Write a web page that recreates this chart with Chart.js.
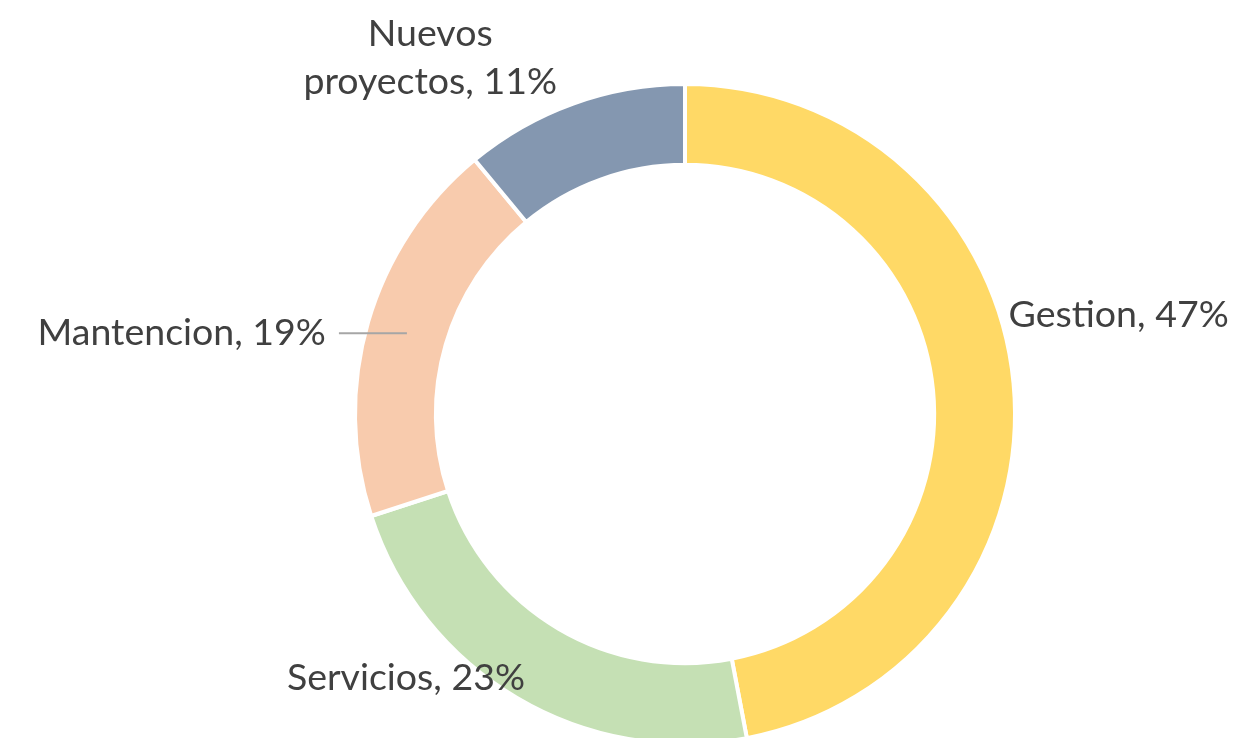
<!DOCTYPE html>
<html>
<head>
<meta charset="utf-8">
<script src="https://cdn.jsdelivr.net/npm/chart.js@4.4.0/dist/chart.umd.min.js"></script>
<style>
html,body{margin:0;padding:0;background:#fff;overflow:hidden;width:1254px;height:738px;}
#wrap{position:absolute;left:0;top:0;width:1254px;height:828px;}
</style>
</head>
<body>
<div id="wrap"><canvas id="c"></canvas></div>
<script>
const categories = ["Gestion", "Servicios", "Mantencion", "Nuevos proyectos"];
const values = [47, 23, 19, 11];
const valueLabels = ["47%", "23%", "19%", "11%"];
const colors = ["#FFD966", "#C5E0B4", "#F8CBAD", "#8497B0"];

const FONT = '37.5px Lato';
const TEXT_COLOR = '#404040';

// label placement relative to the slice's outer mid point
const labelOpts = [
  {dx: -5, dy: -68, align: 'left', lines: [categories[0] + ', ' + valueLabels[0]]},
  {dx: 8, dy: -20, align: 'right', lines: [categories[1] + ', ' + valueLabels[1]]},
  {leader: true, lineLen: 68, gap: 13, align: 'right', lines: [categories[2] + ', ' + valueLabels[2]]},
  {dx: -143, dy: -22, align: 'center', lineHeight: 48, lines: ['Nuevos', 'proyectos, ' + valueLabels[3]]}
];

const labelPlugin = {
  id: 'outLabels',
  afterDatasetsDraw(chart) {
    const ctx = chart.ctx;
    const meta = chart.getDatasetMeta(0);
    ctx.save();
    ctx.font = FONT;
    ctx.fillStyle = TEXT_COLOR;
    ctx.textBaseline = 'middle';
    meta.data.forEach((arc, i) => {
      const p = arc.getProps(['x','y','startAngle','endAngle','outerRadius','innerRadius'], true);
      const mid = (p.startAngle + p.endAngle) / 2;
      const o = labelOpts[i];
      if (o.leader) {
        const r = (p.outerRadius + p.innerRadius) / 2;
        const lx = p.x + Math.cos(mid) * r;
        const ly = p.y + Math.sin(mid) * r;
        ctx.strokeStyle = '#A6A6A6';
        ctx.lineWidth = 2;
        ctx.beginPath();
        ctx.moveTo(lx, ly);
        ctx.lineTo(lx - o.lineLen, ly);
        ctx.stroke();
        ctx.textAlign = 'right';
        ctx.fillText(o.lines[0], lx - o.lineLen - o.gap, ly);
        return;
      }
      const ox = p.x + Math.cos(mid) * p.outerRadius + o.dx;
      const oy = p.y + Math.sin(mid) * p.outerRadius + o.dy;
      ctx.textAlign = o.align;
      const lh = o.lineHeight || 0;
      const n = o.lines.length;
      o.lines.forEach((t, k) => {
        ctx.fillText(t, ox, oy - (n - 1 - k) * lh);
      });
    });
    ctx.restore();
  }
};

new Chart(document.getElementById('c'), {
  type: 'doughnut',
  data: {
    labels: categories,
    datasets: [{
      data: values,
      backgroundColor: colors,
      borderColor: '#ffffff',
      borderWidth: 4,
      hoverOffset: 0
    }]
  },
  options: {
    responsive: true,
    maintainAspectRatio: false,
    animation: false,
    cutout: '75.5%',
    layout: {padding: {left: 353, right: 237, top: 82, bottom: 82}},
    plugins: {legend: {display: false}, tooltip: {enabled: false}}
  },
  plugins: [labelPlugin]
});
</script>
</body>
</html>
